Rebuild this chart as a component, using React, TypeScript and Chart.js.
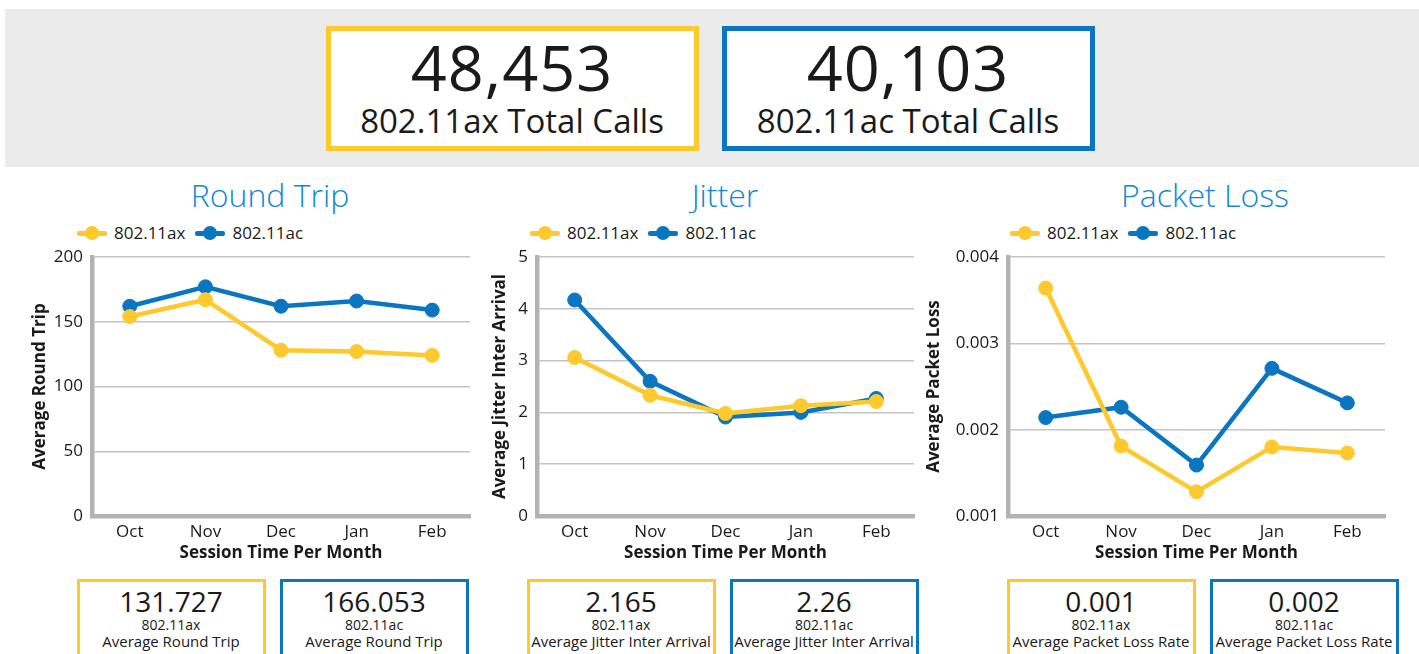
import React, { useEffect, useRef } from 'react';
import { Chart, registerables } from 'chart.js';

Chart.register(...registerables);

// ---------- data ----------
const months = ['Oct', 'Nov', 'Dec', 'Jan', 'Feb'];
const seriesNames = ['802.11ax', '802.11ac'];

const roundTripAx = [154, 167, 128, 127, 124];
const roundTripAc = [162, 177, 162, 166, 159];

const jitterAx = [3.06, 2.33, 1.98, 2.13, 2.21];
const jitterAc = [4.17, 2.6, 1.91, 2.0, 2.27];

const lossAx = [0.00364, 0.00181, 0.00128, 0.0018, 0.00173];
const lossAc = [0.00214, 0.00226, 0.00159, 0.00271, 0.00231];

const totalCalls = ['48,453', '40,103'];
const totalCallLabels = ['802.11ax Total Calls', '802.11ac Total Calls'];

const chartTitles = ['Round Trip', 'Jitter', 'Packet Loss'];
const yTitles = ['Average Round Trip', 'Average Jitter Inter Arrival', 'Average Packet Loss'];
const xTitle = 'Session Time Per Month';

const roundTripSummary = ['131.727', '166.053'];
const jitterSummary = ['2.165', '2.26'];
const lossSummary = ['0.001', '0.002'];
const summaryLabels = ['Average Round Trip', 'Average Jitter Inter Arrival', 'Average Packet Loss Rate'];

// ---------- style ----------
const YELLOW = '#fec92d';
const BLUE = '#0a76c2';
const TITLE_BLUE = '#0e89d4';
const AXIS = '#b3b3b3';
const GRID = '#c4c4c4';
const TEXT = '#1a1a1a';
const FONT = '"Open Sans", "Noto Sans", sans-serif';

type ChartProps = {
  ax: number[];
  ac: number[];
  min: number;
  max: number;
  step: number;
  yTitle: string;
  left: number;
  top: number;
  width: number;
  height: number;
  yWidth: number;
  padRight: number;
};

function LineChart(p: ChartProps) {
  const ref = useRef<HTMLCanvasElement>(null);
  useEffect(() => {
    const mk = (label: string, data: number[], color: string) => ({
      label,
      data,
      borderColor: color,
      backgroundColor: color,
      pointBackgroundColor: color,
      pointBorderColor: color,
      borderWidth: 4.5,
      pointRadius: 7,
      pointHoverRadius: 7,
      pointBorderWidth: 1,
      tension: 0,
    });
    const chart = new Chart(ref.current as HTMLCanvasElement, {
      type: 'line',
      data: {
        labels: months,
        datasets: [mk(seriesNames[0], p.ax, YELLOW), mk(seriesNames[1], p.ac, BLUE)],
      },
      options: {
        responsive: false,
        animation: false,
        devicePixelRatio: 1,
        layout: { padding: { top: 42, right: p.padRight, bottom: 7, left: 0 } },
        plugins: { legend: { display: false }, tooltip: { enabled: false } },
        scales: {
          x: {
            offset: true,
            grid: { display: false, drawTicks: false },
            border: { display: true, color: AXIS, width: 4.5 },
            ticks: { font: { family: FONT, size: 17 }, color: TEXT, padding: 6 },
            title: {
              display: true,
              text: xTitle,
              font: { family: FONT, size: 17, weight: 'bold' },
              color: TEXT,
              padding: 0,
            },
            afterFit: (s: any) => {
              s.height = 47;
            },
          },
          y: {
            min: p.min,
            max: p.max,
            ticks: { stepSize: p.step, font: { family: FONT, size: 17 }, color: TEXT, padding: 9 },
            grid: { color: GRID, lineWidth: 1.5, drawTicks: false },
            border: { display: true, color: AXIS, width: 4.5 },
            title: {
              display: true,
              text: p.yTitle,
              font: { family: FONT, size: 17, weight: 'bold' },
              color: TEXT,
              padding: { top: 10, bottom: 0 },
            },
            afterFit: (s: any) => {
              s.width = p.yWidth;
            },
          },
        },
      } as any,
    });
    return () => chart.destroy();
  }, []);
  return (
    <canvas
      ref={ref}
      width={p.width}
      height={p.height}
      style={{ position: 'absolute', left: p.left, top: p.top, width: p.width, height: p.height }}
    />
  );
}

function Legend({ left }: { left: number }) {
  const colors = [YELLOW, BLUE];
  return (
    <div style={{ position: 'absolute', left, top: 221, height: 24, display: 'flex', alignItems: 'center' }}>
      {seriesNames.map((n, i) => (
        <div key={n} style={{ display: 'flex', alignItems: 'center', marginRight: 10 }}>
          <div style={{ position: 'relative', width: 30, height: 14, marginRight: 7 }}>
            <div style={{ position: 'absolute', left: 0, top: 5, width: 30, height: 4.5, background: colors[i], borderRadius: 2 }} />
            <div style={{ position: 'absolute', left: 8, top: 0, width: 14, height: 14, background: colors[i], borderRadius: '50%' }} />
          </div>
          <span style={{ fontSize: 17, color: TEXT, fontFamily: FONT, lineHeight: '24px' }}>{n}</span>
        </div>
      ))}
    </div>
  );
}

function CText({ cx, top, size, children, color = TEXT, weight = 400, spacing = 0 }: any) {
  return (
    <div
      style={{
        position: 'absolute',
        left: cx - 300,
        width: 600,
        top,
        textAlign: 'center',
        fontSize: size,
        lineHeight: `${size}px`,
        color,
        fontWeight: weight,
        letterSpacing: spacing,
        fontFamily: FONT,
        whiteSpace: 'nowrap',
      }}
    >
      {children}
    </div>
  );
}

function SummaryBox({ left, color, value, series, label }: any) {
  const cx = left + 94;
  return (
    <>
      <div
        style={{
          position: 'absolute',
          left,
          top: 579,
          width: 189,
          height: 100,
          boxSizing: 'border-box',
          border: `3px solid ${color}`,
          background: '#fff',
        }}
      />
      <CText cx={cx} top={587} size={28}>{value}</CText>
      <CText cx={cx} top={618} size={14}>{series}</CText>
      <CText cx={cx} top={634} size={15}>{label}</CText>
    </>
  );
}

export default function App() {
  return (
    <div
      style={{
        position: 'absolute',
        left: 0,
        top: 0,
        width: 1419,
        height: 654,
        overflow: 'hidden',
        background: '#fff',
        fontFamily: FONT,
      }}
    >
      {/* banner */}
      <div style={{ position: 'absolute', left: 5, top: 9, width: 1414, height: 158, background: '#ecebeb' }} />
      {[0, 1].map((i) => {
        const left = i === 0 ? 326 : 722;
        const cx = left + 186;
        return (
          <React.Fragment key={i}>
            <div
              style={{
                position: 'absolute',
                left,
                top: 26,
                width: 373,
                height: 125,
                boxSizing: 'border-box',
                border: `5px solid ${i === 0 ? YELLOW : BLUE}`,
                background: '#fff',
              }}
            />
            <CText cx={cx} top={35} size={63} spacing={1}>{totalCalls[i]}</CText>
            <CText cx={cx} top={104} size={33}>{totalCallLabels[i]}</CText>
          </React.Fragment>
        );
      })}

      {/* titles */}
      <CText cx={270} top={179} size={32} color={TITLE_BLUE} weight={300}>{chartTitles[0]}</CText>
      <CText cx={725} top={179} size={32} color={TITLE_BLUE} weight={300}>{chartTitles[1]}</CText>
      <CText cx={1205} top={179} size={32} color={TITLE_BLUE} weight={300}>{chartTitles[2]}</CText>

      <Legend left={77} />
      <Legend left={530} />
      <Legend left={1010} />

      <LineChart ax={roundTripAx} ac={roundTripAc} min={0} max={200} step={50} yTitle={yTitles[0]}
        left={20} top={215} width={460} height={355} yWidth={72} padRight={10} />
      <LineChart ax={jitterAx} ac={jitterAc} min={0} max={5} step={1} yTitle={yTitles[1]}
        left={480} top={215} width={445} height={355} yWidth={57} padRight={11} />
      <LineChart ax={lossAx} ac={lossAc} min={0.001} max={0.004} step={0.001} yTitle={yTitles[2]}
        left={914} top={215} width={486} height={355} yWidth={94} padRight={15} />

      <SummaryBox left={77} color={YELLOW} value={roundTripSummary[0]} series={seriesNames[0]} label={summaryLabels[0]} />
      <SummaryBox left={280} color={BLUE} value={roundTripSummary[1]} series={seriesNames[1]} label={summaryLabels[0]} />
      <SummaryBox left={527} color={YELLOW} value={jitterSummary[0]} series={seriesNames[0]} label={summaryLabels[1]} />
      <SummaryBox left={730} color={BLUE} value={jitterSummary[1]} series={seriesNames[1]} label={summaryLabels[1]} />
      <SummaryBox left={1007} color={YELLOW} value={lossSummary[0]} series={seriesNames[0]} label={summaryLabels[2]} />
      <SummaryBox left={1210} color={BLUE} value={lossSummary[1]} series={seriesNames[1]} label={summaryLabels[2]} />
    </div>
  );
}
